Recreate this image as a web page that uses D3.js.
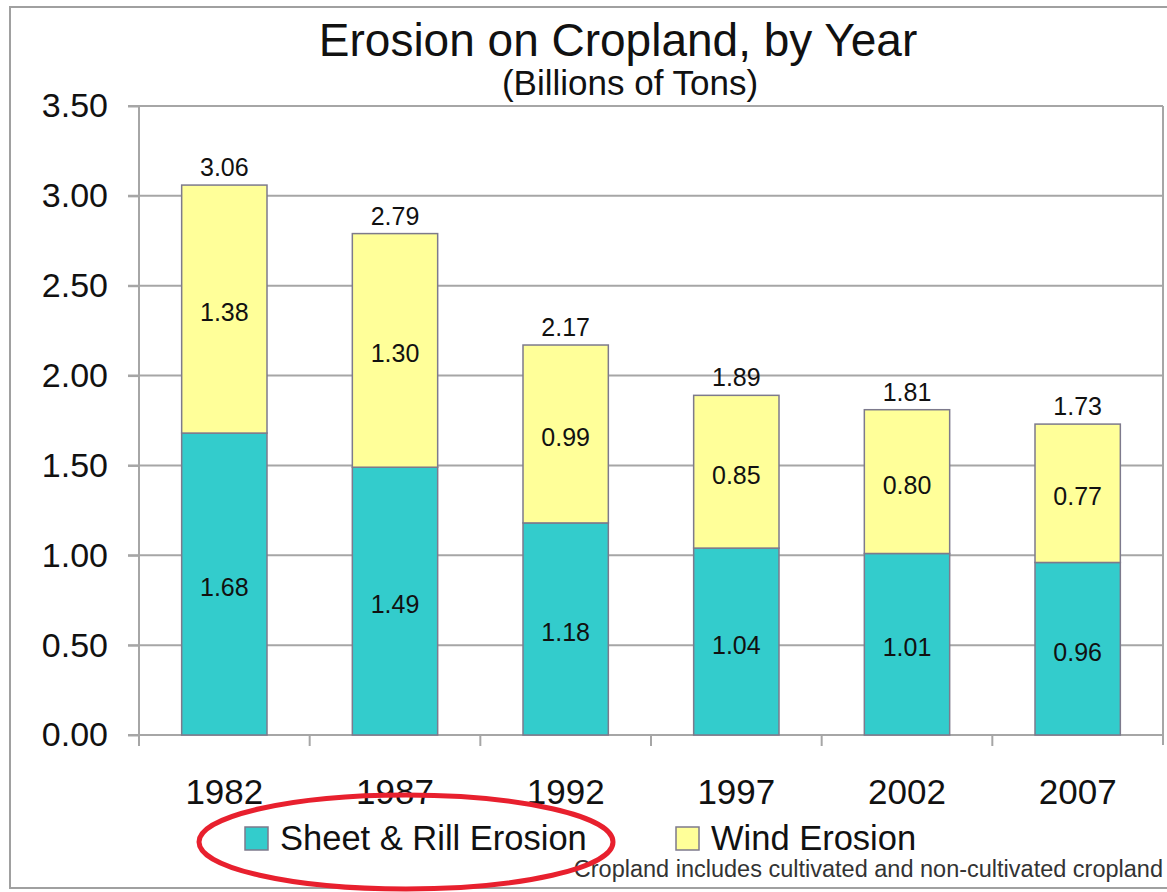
<!DOCTYPE html>
<html>
<head>
<meta charset="utf-8">
<script src="https://cdn.jsdelivr.net/npm/d3@7"></script>
<style>
  html, body { margin: 0; padding: 0; background: #fff; }
  svg { display: block; font-family: "Liberation Sans", Arial, sans-serif; }
</style>
</head>
<body>
<div id="chart"></div>
<script>
// Data
const years = ['1982', '1987', '1992', '1997', '2002', '2007'];
const sheetRill = [1.68, 1.49, 1.18, 1.04, 1.01, 0.96];
const wind = [1.38, 1.30, 0.99, 0.85, 0.80, 0.77];
const totals = [3.06, 2.79, 2.17, 1.89, 1.81, 1.73];
const yTicks = [0, 0.5, 1.0, 1.5, 2.0, 2.5, 3.0, 3.5];
const seriesNames = ['Sheet & Rill Erosion', 'Wind Erosion'];

const width = 1167, height = 892;
const margin = { top: 106, right: 4, bottom: 157, left: 139 };
const innerW = width - margin.left - margin.right;
const innerH = height - margin.top - margin.bottom;

const colors = ['#33cccc', '#ffff99'];
const gridColor = '#a6a6a6';
const fontFamily = '"Liberation Sans", Arial, sans-serif';

const svg = d3.select('#chart')
  .append('svg')
  .attr('width', width)
  .attr('height', height);

// outer frame
svg.append('rect')
  .attr('x', 10).attr('y', 7)
  .attr('width', width + 20).attr('height', 881)
  .attr('fill', 'none')
  .attr('stroke', '#a0a0a0')
  .attr('stroke-width', 2);

// titles
svg.append('text')
  .attr('x', 618).attr('y', 56)
  .attr('text-anchor', 'middle')
  .style('font-size', '46px')
  .style('fill', '#111')
  .text('Erosion on Cropland, by Year');

svg.append('text')
  .attr('x', 630).attr('y', 95)
  .attr('text-anchor', 'middle')
  .style('font-size', '35px')
  .style('fill', '#111')
  .text('(Billions of Tons)');

const g = svg.append('g')
  .attr('transform', `translate(${margin.left},${margin.top})`);

// Scales
const x = d3.scaleBand().domain(years).range([0, innerW]).paddingInner(0.5).paddingOuter(0.25);
const y = d3.scaleLinear().domain([0, 3.5]).range([innerH, 0]);

// gridlines
g.append('g')
  .selectAll('line')
  .data(yTicks.slice(1))
  .join('line')
  .attr('x1', -11).attr('x2', innerW)
  .attr('y1', (d) => y(d)).attr('y2', (d) => y(d))
  .attr('stroke', gridColor)
  .attr('stroke-width', 2);

// right border of plot
g.append('line')
  .attr('x1', innerW).attr('x2', innerW)
  .attr('y1', 0).attr('y2', innerH + 10)
  .attr('stroke', gridColor)
  .attr('stroke-width', 2);

// y axis
const yAxis = g.append('g')
  .call(d3.axisLeft(y).tickValues(yTicks).tickFormat(d3.format('.2f')).tickSize(11).tickPadding(20));
yAxis.selectAll('text')
  .style('font-size', '34px')
  .style('fill', '#111')
  .style('font-family', fontFamily);
yAxis.select('.domain').attr('d', `M0,0V${innerH + 11}`);

// x axis, labels only; ticks sit between categories
const xAxis = g.append('g')
  .attr('transform', `translate(0,${innerH})`)
  .call(d3.axisBottom(x).tickSize(0).tickPadding(44));
xAxis.selectAll('text')
  .style('font-size', '35px')
  .style('fill', '#111')
  .style('font-family', fontFamily);
xAxis.selectAll('.domain').remove();

g.append('line')
  .attr('x1', -11).attr('x2', innerW)
  .attr('y1', innerH).attr('y2', innerH)
  .attr('stroke', gridColor).attr('stroke-width', 2);

const step = x.step();
g.append('g')
  .selectAll('line')
  .data(d3.range(1, years.length))
  .join('line')
  .attr('x1', (i) => i * step).attr('x2', (i) => i * step)
  .attr('y1', innerH).attr('y2', innerH + 11)
  .attr('stroke', gridColor).attr('stroke-width', 2);

svg.selectAll('.tick line').attr('stroke', gridColor).attr('stroke-width', 2);
svg.selectAll('.domain').attr('stroke', gridColor).attr('stroke-width', 2);

// stacked bars
const rows = years.map((yr, i) => ({ year: yr, sheet: sheetRill[i], wind: wind[i], total: totals[i] }));
const stack = d3.stack().keys(['sheet', 'wind'])(rows);

const layers = g.selectAll('.layer')
  .data(stack)
  .join('g')
  .attr('class', 'layer')
  .attr('fill', (d, i) => colors[i]);

layers.selectAll('rect')
  .data((d) => d)
  .join('rect')
  .attr('x', (d) => x(d.data.year))
  .attr('width', x.bandwidth())
  .attr('y', (d) => y(d[1]))
  .attr('height', (d) => y(d[0]) - y(d[1]))
  .attr('stroke', '#7d7a8c')
  .attr('stroke-width', 1.5);

// segment labels
layers.selectAll('text')
  .data((d) => d.map((v) => ({ v, key: d.key })))
  .join('text')
  .attr('x', (d) => x(d.v.data.year) + x.bandwidth() / 2)
  .attr('y', (d) => (y(d.v[0]) + y(d.v[1])) / 2 + 12)
  .attr('text-anchor', 'middle')
  .style('font-size', '25px')
  .style('fill', '#111')
  .text((d) => d3.format('.2f')(d.v.data[d.key]));

// totals
g.selectAll('.total')
  .data(rows)
  .join('text')
  .attr('class', 'total')
  .attr('x', (d) => x(d.year) + x.bandwidth() / 2)
  .attr('y', (d) => y(d.total) - 9)
  .attr('text-anchor', 'middle')
  .style('font-size', '25px')
  .style('fill', '#111')
  .text((d) => d3.format('.2f')(d.total));

// legend
const legendX = [245, 676];
const legend = svg.append('g');
seriesNames.forEach((name, i) => {
  legend.append('rect')
    .attr('x', legendX[i]).attr('y', 827)
    .attr('width', 23).attr('height', 23)
    .attr('fill', colors[i])
    .attr('stroke', '#7d7a8c')
    .attr('stroke-width', 1.5);
  legend.append('text')
    .attr('x', legendX[i] + 35).attr('y', 850)
    .style('font-size', '34.5px')
    .style('fill', '#111')
    .text(name);
});

// footnote
svg.append('text')
  .attr('x', 1163).attr('y', 877)
  .attr('text-anchor', 'end')
  .style('font-size', '23.5px')
  .style('fill', '#333')
  .text('Cropland includes cultivated and non-cultivated cropland');

// red annotation ellipse
svg.append('ellipse')
  .attr('cx', 406).attr('cy', 842)
  .attr('rx', 207).attr('ry', 47)
  .attr('fill', 'none')
  .attr('stroke', '#e8202e')
  .attr('stroke-width', 5);
</script>
</body>
</html>
